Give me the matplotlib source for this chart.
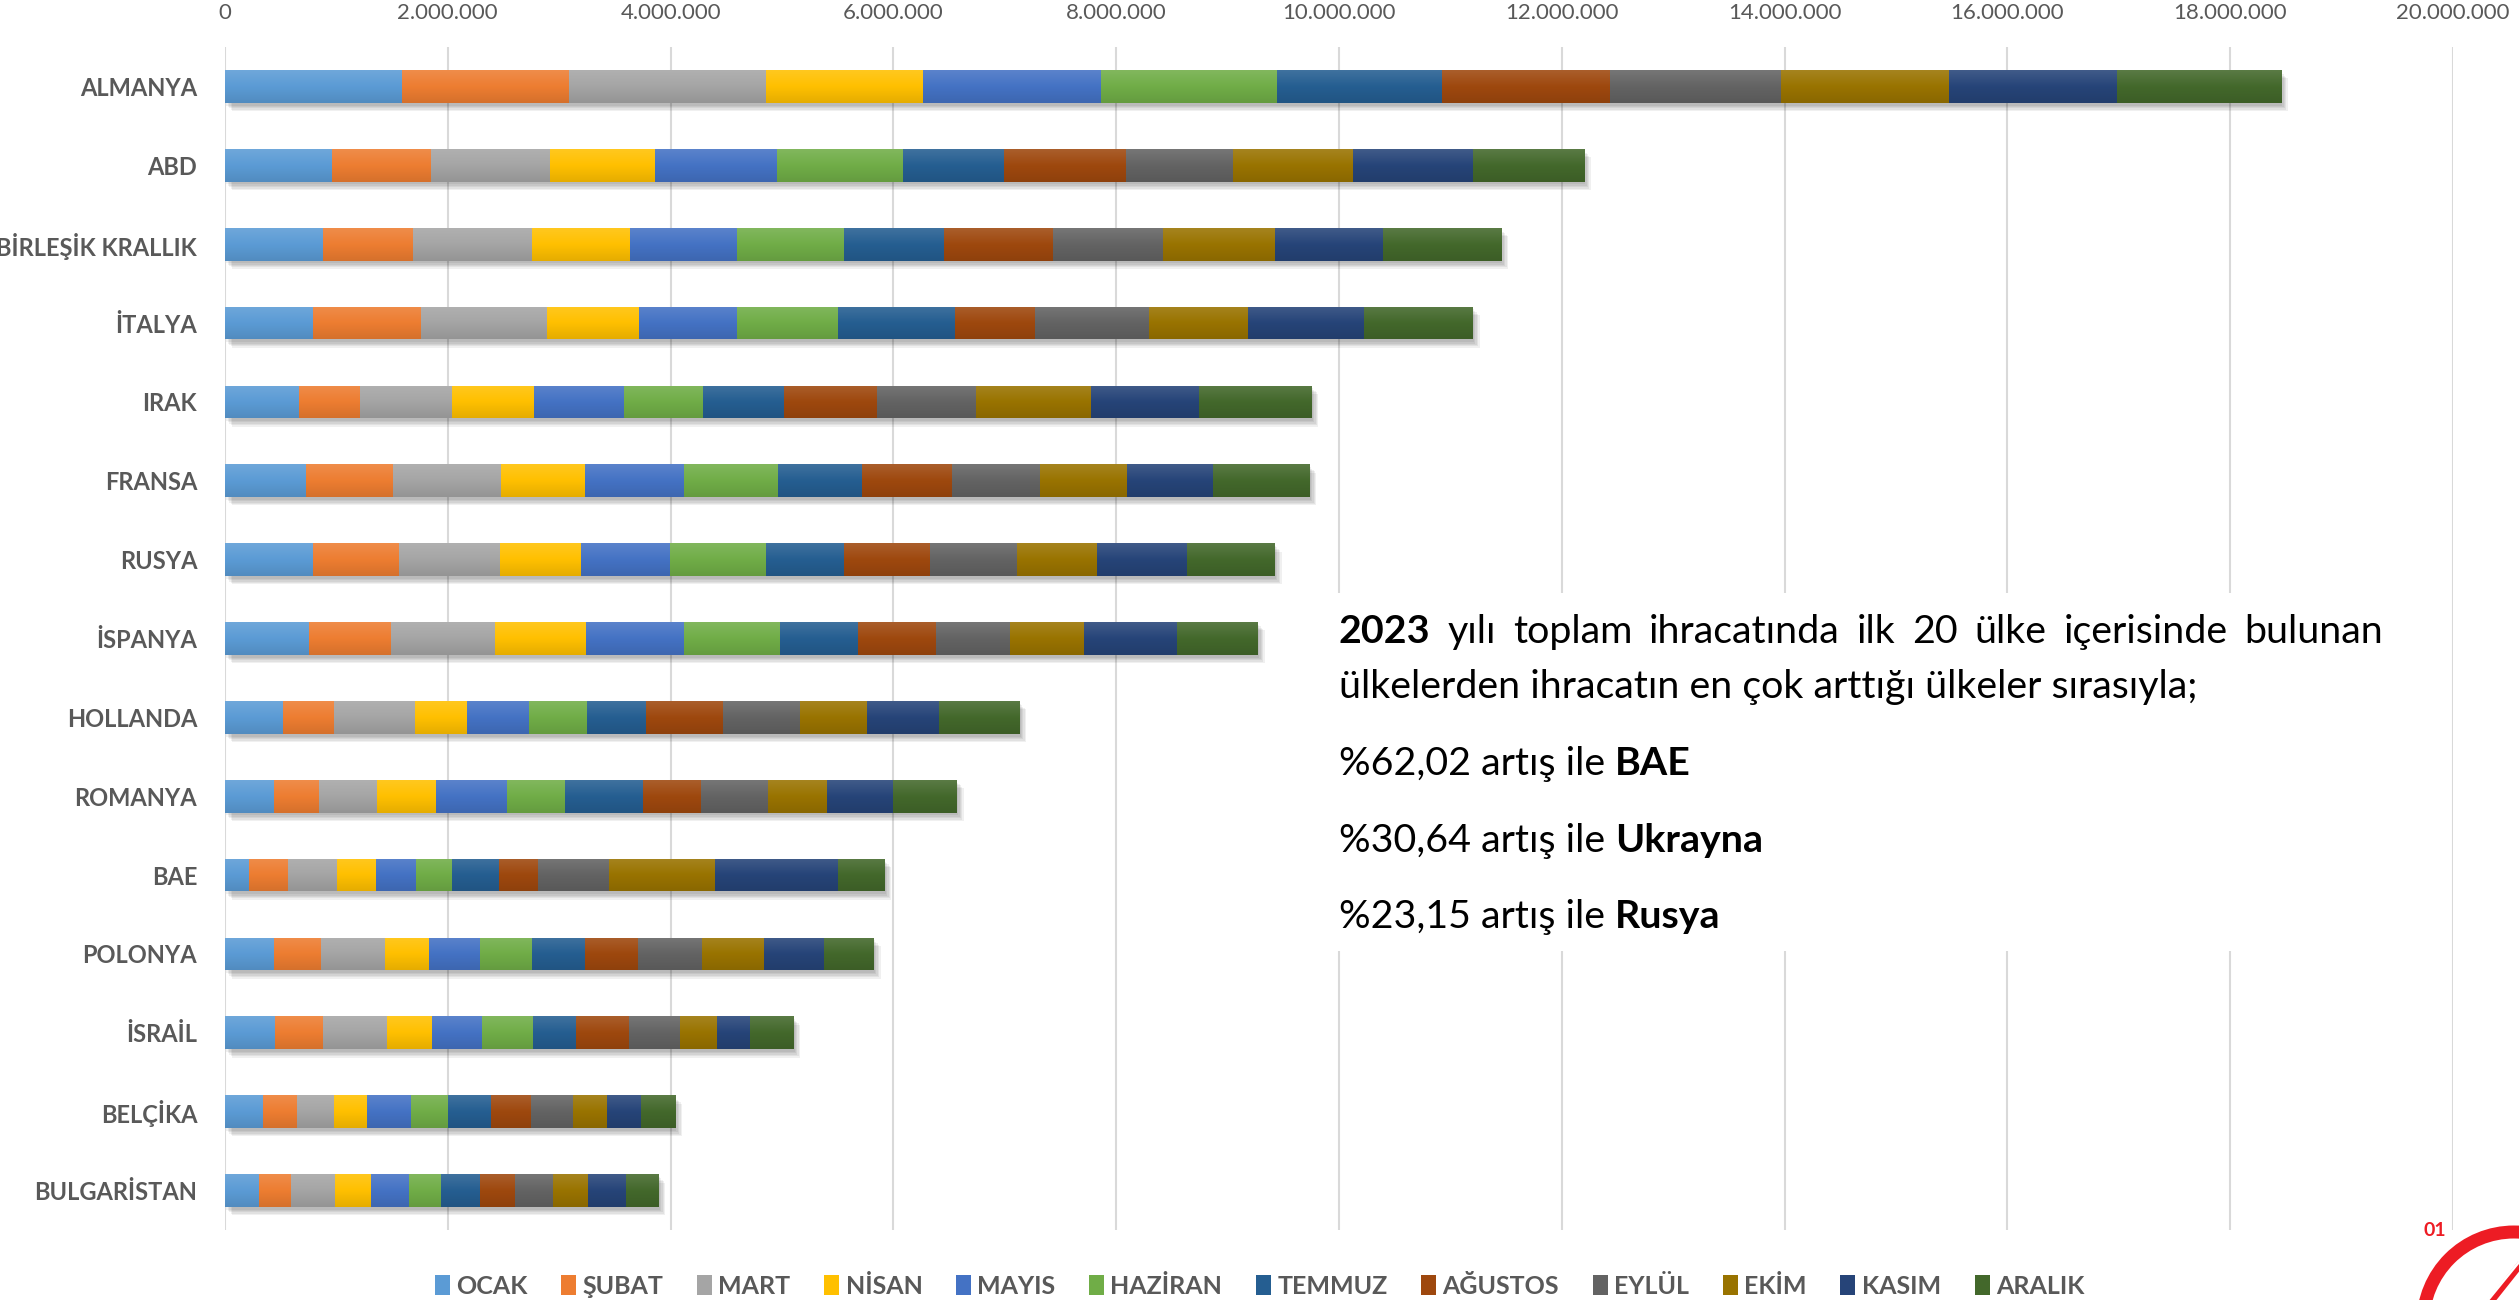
import numpy as np
import matplotlib
matplotlib.use("Agg")
import matplotlib.pyplot as plt
from matplotlib import patheffects as pe
from matplotlib.patches import Rectangle, Ellipse
from matplotlib.colors import to_rgb, LinearSegmentedColormap
from matplotlib.ticker import FuncFormatter

# ---------------- data ----------------
countries = ["ALMANYA", "ABD", "BİRLEŞİK KRALLIK", "İTALYA", "IRAK", "FRANSA", "RUSYA",
             "İSPANYA", "HOLLANDA", "ROMANYA", "BAE", "POLONYA", "İSRAİL", "BELÇİKA",
             "BULGARİSTAN"]
months = ["OCAK", "ŞUBAT", "MART", "NİSAN", "MAYIS", "HAZİRAN", "TEMMUZ", "AĞUSTOS",
          "EYLÜL", "EKİM", "KASIM", "ARALIK"]

ocak    = [1591000, 959000, 884000, 794000, 661000, 725000, 790000, 758000, 525000, 437000, 212000, 436000, 447000, 338000, 304000]
subat   = [1497000, 893000, 804000, 968000, 553000, 786000, 769000, 729000, 457000, 409000, 355000, 424000, 436000, 304000, 292000]
mart    = [1772000, 1064000, 1065000, 1127000, 826000, 970000, 906000, 938000, 721000, 521000, 442000, 573000, 567000, 332000, 395000]
nisan   = [1408000, 941000, 879000, 824000, 730000, 753000, 729000, 817000, 473000, 529000, 343000, 395000, 412000, 304000, 321000]
mayis   = [1594000, 1099000, 968000, 886000, 809000, 882000, 802000, 882000, 553000, 633000, 361000, 459000, 442000, 390000, 344000]
haziran = [1580000, 1127000, 955000, 907000, 714000, 850000, 858000, 858000, 521000, 521000, 321000, 469000, 458000, 338000, 281000]
temmuz  = [1487000, 906000, 900000, 1044000, 721000, 753000, 705000, 697000, 529000, 698000, 424000, 476000, 390000, 384000, 350000]
agustos = [1502000, 1100000, 982000, 721000, 842000, 810000, 770000, 706000, 690000, 521000, 356000, 476000, 476000, 361000, 320000]
eylul   = [1539000, 963000, 984000, 1021000, 889000, 786000, 785000, 665000, 689000, 609000, 630000, 573000, 458000, 372000, 339000]
ekim    = [1502000, 1078000, 1004000, 893000, 1027000, 785000, 714000, 658000, 601000, 529000, 951000, 561000, 327000, 310000, 309000]
kasim   = [1508000, 1070000, 966000, 1040000, 969000, 770000, 809000, 841000, 650000, 593000, 1112000, 533000, 298000, 298000, 344000]
aralik  = [1474000, 997000, 1063000, 974000, 1011000, 865000, 786000, 722000, 721000, 569000, 413000, 447000, 389000, 309000, 292000]

series = [ocak, subat, mart, nisan, mayis, haziran, temmuz, agustos, eylul, ekim, kasim, aralik]

colors = ["#5B9BD5", "#ED7D31", "#A5A5A5", "#FFC000", "#4472C4", "#70AD47",
          "#255E91", "#9E480E", "#636363", "#997300", "#264478", "#43682B"]

xticks = [0, 2000000, 4000000, 6000000, 8000000, 10000000, 12000000, 14000000,
          16000000, 18000000, 20000000]

note_line1 = ["2023", "yılı", "toplam", "ihracatında", "ilk", "20", "ülke", "içerisinde", "bulunan"]
note_line2 = "ülkelerden ihracatın en çok arttığı ülkeler sırasıyla;"
note_items = [("%62,02 artış ile", "BAE"), ("%30,64 artış ile", "Ukrayna"), ("%23,15 artış ile", "Rusya")]

# ---------------- figure ----------------
W, H = 2519, 1300
DPI = 100
FONT = ["Lato", "DejaVu Sans"]
GRAY = "#595959"
plt.rcParams["font.family"] = FONT

fig = plt.figure(figsize=(W / DPI, H / DPI), dpi=DPI)
fig.patch.set_facecolor("white")

def fx(px):
    return px / W

def fy(py):
    return 1 - py / H

ax = fig.add_axes([fx(225), fy(1230), fx(2453) - fx(225), fy(47) - fy(1230)])
ax.set_axisbelow(True)

y = np.arange(len(countries))
bar_h = 0.415
left = np.zeros(len(countries))

def shade(c, f):
    r = np.array(to_rgb(c))
    if f > 0:
        return tuple(r + (1 - r) * f)
    return tuple(r * (1 + f))

shadow = [pe.SimplePatchShadow(offset=(o, -o - 1), shadow_rgbFace="#000000", alpha=0.06)
          for o in (1, 2, 3, 4, 5)] + [pe.Normal()]

for vals, col, name in zip(series, colors, months):
    vals = np.array(vals, dtype=float)
    bars = ax.barh(y, vals, left=left, height=bar_h, color=col, zorder=2, linewidth=0)
    cmap = LinearSegmentedColormap.from_list("g", [shade(col, 0.12), col, shade(col, -0.1)])
    grad = np.linspace(0, 1, 32).reshape(-1, 1)
    for b in bars:
        b.set_path_effects(shadow)
        x0, w = b.get_x(), b.get_width()
        yc0, hh = b.get_y(), b.get_height()
        im = ax.imshow(grad, cmap=cmap, aspect="auto", interpolation="bilinear",
                       extent=[x0, x0 + w, yc0 + hh, yc0], zorder=2.1)
        im.set_clip_path(b)
    left = left + vals

ax.set_xlim(0, 20000000)
ax.set_ylim(len(countries) - 0.5, -0.5)
ax.set_yticks(y)
ax.set_yticklabels(countries, fontsize=17, fontweight="bold", color=GRAY)
ax.set_xticks(xticks)
ax.xaxis.set_major_formatter(FuncFormatter(lambda v, p: f"{v:,.0f}".replace(",", ".")))
ax.xaxis.tick_top()
ax.tick_params(axis="x", length=0, pad=17, labelsize=16, labelcolor=GRAY)
ax.tick_params(axis="y", length=0, pad=20)
ax.grid(axis="x", color="#D9D9D9", linewidth=1.5)
for s in ax.spines.values():
    s.set_visible(False)

# white box behind the note (hides gridlines)
box = Rectangle((fx(1300), fy(951)), fx(2440) - fx(1300), fy(593) - fy(951),
                transform=fig.transFigure, facecolor="white", edgecolor="none", zorder=1.5)
ax.add_patch(box)

# ---------------- note text ----------------
renderer = fig.canvas.get_renderer()
NOTE_FS = 28.4

def width_of(s, weight="normal"):
    t = fig.text(0, 0, s, fontsize=NOTE_FS, fontweight=weight)
    w = t.get_window_extent(renderer).width
    t.remove()
    return w

x_start, x_end = 1339, 2383
weights = ["bold"] + ["normal"] * (len(note_line1) - 1)
widths = [width_of(wd, wt) for wd, wt in zip(note_line1, weights)]
gap = (x_end - x_start - sum(widths)) / (len(note_line1) - 1)
xp = x_start
for wd, wt, wdt in zip(note_line1, weights, widths):
    fig.text(fx(xp), fy(643), wd, fontsize=NOTE_FS, fontweight=wt, color="black", va="baseline")
    xp += wdt + gap

fig.text(fx(x_start), fy(698), note_line2, fontsize=NOTE_FS, color="black", va="baseline")

space_w = width_of("a a") - width_of("aa")
for (reg, bold), base in zip(note_items, [775, 852, 928]):
    fig.text(fx(x_start), fy(base), reg, fontsize=NOTE_FS, color="black", va="baseline")
    wr = width_of(reg)
    fig.text(fx(x_start + wr + space_w), fy(base), bold, fontsize=NOTE_FS,
             fontweight="bold", color="black", va="baseline")

# ---------------- legend ----------------
handles = [Rectangle((0, 0), 1, 1, facecolor=c, edgecolor="none") for c in colors]
leg = fig.legend(handles, months, loc="center", bbox_to_anchor=(0.5, fy(1286)),
                 ncol=12, frameon=False, handlelength=0.6, handleheight=0.9,
                 handletextpad=0.25, columnspacing=1.35, borderpad=0,
                 prop={"size": 18, "weight": "bold"})
for t in leg.get_texts():
    t.set_color(GRAY)

# ---------------- logo ----------------
RED = "#ED1C24"
fig.text(fx(2435), fy(1236), "01", fontsize=14, fontweight="bold", color=RED,
         ha="center", va="baseline")
ring = Ellipse((fx(2514), fy(1323)), fx(182), 182 / H, angle=0, fill=False,
               edgecolor=RED, linewidth=13 * 72 / DPI, transform=fig.transFigure)
fig.patches.append(ring)
fig.add_artist(plt.Line2D([fx(2492), fx(2519)], [fy(1300), fy(1266)], color=RED,
                          linewidth=7 * 72 / DPI, transform=fig.transFigure))
fig.add_artist(plt.Line2D([fx(2488), fx(2519)], [fy(1300), fy(1262)], color="white",
                          linewidth=2.5 * 72 / DPI, transform=fig.transFigure))

fig.savefig("out.png", dpi=DPI, facecolor="white")
